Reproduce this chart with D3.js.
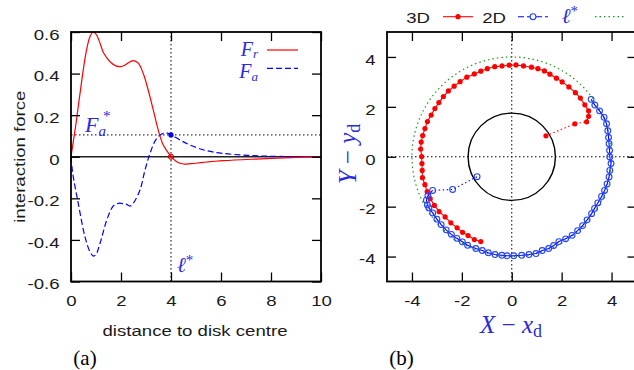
<!DOCTYPE html>
<html>
<head>
<meta charset="utf-8">
<script src="https://cdn.jsdelivr.net/npm/d3@7"></script>
<style>
  body { margin: 0; background: #fff; }
</style>
</head>
<body>
<div id="chart"></div>
<script>
// ---- (a) interaction force vs distance ----
const frDistance = [0, 0.1, 0.2, 0.4, 0.6, 0.75, 0.88, 1.0, 1.15, 1.3, 1.56, 1.8, 1.98, 2.15, 2.35, 2.49, 2.69, 2.89, 3.09, 3.29, 3.49, 3.69, 3.96, 4.23, 4.5, 4.8, 5.3, 6.1, 7.4, 8.8, 10];
const frForce = [0, 0.08, 0.16, 0.34, 0.5, 0.575, 0.6, 0.59, 0.55, 0.5, 0.457, 0.437, 0.433, 0.44, 0.456, 0.462, 0.45, 0.4, 0.32, 0.225, 0.128, 0.056, 0.008, -0.024, -0.035, -0.033, -0.027, -0.019, -0.011, -0.004, 0];
const faDistance = [0, 0.07, 0.29, 0.56, 0.76, 0.9, 1.0, 1.16, 1.43, 1.69, 1.89, 2.05, 2.2, 2.36, 2.49, 2.76, 2.96, 3.16, 3.43, 3.69, 3.85, 4.03, 4.4, 4.76, 5.43, 6.09, 7.03, 8.09, 10];
const faForce = [0, -0.08, -0.224, -0.385, -0.457, -0.478, -0.47, -0.417, -0.305, -0.237, -0.224, -0.225, -0.228, -0.237, -0.224, -0.16, -0.064, 0.016, 0.089, 0.113, 0.114, 0.104, 0.078, 0.056, 0.029, 0.016, 0.007, 0.002, 0];
const distanceTicks = [0, 2, 4, 6, 8, 10];
const forceTicks = [-0.6, -0.4, -0.2, 0, 0.2, 0.4, 0.6];
const ellStar = 4;
const faStar = 0.105;

// ---- (b) trajectories around the disk ----
const diskRadius = 1.75;
const traj3dApproach = [[1.37, 0.84], [2.53, 1.32], [3.0, 1.4]];
const traj3dOrbit = [[3.0, 1.4], [3.08, 1.62], [3.08, 1.84], [2.93, 2.08], [2.75, 2.35], [2.55, 2.57], [2.29, 2.8], [2.02, 3.0], [1.79, 3.15], [1.53, 3.31], [1.31, 3.44], [1.05, 3.53], [0.79, 3.59], [0.47, 3.64], [0.17, 3.68], [-0.1, 3.67], [-0.39, 3.64], [-0.68, 3.61], [-0.98, 3.53], [-1.24, 3.43], [-1.5, 3.32], [-1.8, 3.19], [-2.07, 3.01], [-2.31, 2.83], [-2.54, 2.64], [-2.74, 2.41], [-2.92, 2.17], [-3.08, 1.93], [-3.23, 1.67], [-3.38, 1.41], [-3.48, 1.13], [-3.57, 0.85], [-3.63, 0.59], [-3.65, 0.31], [-3.61, 0.01], [-3.6, -0.27], [-3.59, -0.55], [-3.58, -0.84], [-3.48, -1.12], [-3.39, -1.4], [-3.27, -1.68], [-3.1, -1.95], [-2.91, -2.2], [-2.67, -2.41], [-2.44, -2.65], [-2.19, -2.85], [-1.97, -3.03], [-1.75, -3.16], [-1.5, -3.32], [-1.24, -3.4]];
const traj2dApproach = [[-1.39, -0.8], [-2.37, -1.31], [-3.17, -1.35]];
const traj2dOrbit = [[-3.17, -1.35], [-3.36, -1.56], [-3.42, -1.74], [-3.38, -1.93], [-3.32, -2.05], [-3.17, -2.25], [-3.0, -2.5], [-2.83, -2.72], [-2.63, -2.93], [-2.42, -3.11], [-2.2, -3.27], [-1.98, -3.41], [-1.77, -3.55], [-1.44, -3.68], [-1.18, -3.76], [-0.94, -3.85], [-0.67, -3.92], [-0.4, -3.95], [-0.19, -3.97], [0.08, -3.97], [0.4, -3.95], [0.69, -3.92], [0.97, -3.88], [1.22, -3.76], [1.48, -3.68], [1.68, -3.56], [1.89, -3.4], [2.16, -3.29], [2.42, -3.15], [2.64, -2.96], [2.84, -2.76], [3.02, -2.53], [3.2, -2.28], [3.32, -2.07], [3.45, -1.85], [3.6, -1.59], [3.72, -1.35], [3.82, -1.09], [3.9, -0.81], [3.93, -0.55], [3.98, -0.27], [3.93, -0.01], [3.92, 0.25], [3.9, 0.52], [3.88, 0.77], [3.85, 1.04], [3.8, 1.32], [3.7, 1.58], [3.52, 1.84], [3.33, 2.07], [3.18, 2.3]];
const positionTicks = [-4, -2, 0, 2, 4];

const sansFont = "'Liberation Sans', Arial, Helvetica, sans-serif";
const serifFont = "'Liberation Serif', 'DejaVu Serif', serif";
const fontSize = 15.5;
const stretch = 1.2;  // the figure's sans text is wide
const textColor = '#1a1a1a';
const blue = '#0000ff';
const mathBlue = '#2a2ae0';
const red = '#ff0000';
const green = '#1f991f';

const svg = d3.select('#chart').append('svg')
  .attr('width', 634)
  .attr('height', 370);

// helper for the stretched sans labels
function sansText(parent, x, y, str, anchor, rotate) {
  return parent.append('text')
    .attr('transform', 'translate(' + x + ',' + y + ')' +
      (rotate ? ' rotate(' + rotate + ')' : '') + ' scale(' + stretch + ',1)')
    .attr('text-anchor', anchor || 'middle')
    .attr('font-family', sansFont)
    .attr('font-size', fontSize)
    .attr('fill', textColor)
    .text(str);
}

function styleAxis(g, orient, pad) {
  g.select('.domain').remove();
  g.attr('font-family', sansFont).attr('font-size', fontSize);
  g.selectAll('.tick line').attr('stroke', '#000').attr('stroke-width', 1.3);
  const t = g.selectAll('.tick text').attr('fill', textColor)
    .attr('transform', 'scale(' + stretch + ',1)');
  if (orient === 'left') {
    t.attr('x', -pad / stretch).attr('dy', '0.47em');
  }
}

function drawFrame(x, y, xTicks, yTicks, xFormat, yFormat) {
  const xr = x.range(), yr = y.range();
  // bottom / left with labels
  svg.append('g')
    .attr('transform', 'translate(0,' + yr[0] + ')')
    .call(d3.axisBottom(x).tickValues(xTicks).tickSizeInner(-9).tickSizeOuter(0)
      .tickPadding(14).tickFormat(xFormat))
    .call(g => styleAxis(g, 'bottom', 14));
  svg.append('g')
    .attr('transform', 'translate(' + xr[0] + ',0)')
    .call(d3.axisLeft(y).tickValues(yTicks).tickSizeInner(-9).tickSizeOuter(0)
      .tickFormat(yFormat))
    .call(g => styleAxis(g, 'left', 11.5));
  // mirrored ticks
  svg.append('g')
    .attr('transform', 'translate(0,' + yr[1] + ')')
    .call(d3.axisTop(x).tickValues(xTicks).tickSizeInner(-9).tickSizeOuter(0).tickFormat(''))
    .call(g => styleAxis(g, 'top', 0));
  svg.append('g')
    .attr('transform', 'translate(' + xr[1] + ',0)')
    .call(d3.axisRight(y).tickValues(yTicks).tickSizeInner(-9).tickSizeOuter(0).tickFormat(''))
    .call(g => styleAxis(g, 'right', 0));
  svg.append('rect')
    .attr('x', xr[0]).attr('y', yr[1])
    .attr('width', xr[1] - xr[0]).attr('height', yr[0] - yr[1])
    .attr('fill', 'none').attr('stroke', '#000').attr('stroke-width', 1.8);
}

// ================= panel (a) =================
const xA = d3.scaleLinear().domain([0, 10]).range([71, 321]);
const yA = d3.scaleLinear().domain([-0.6, 0.6]).range([281.5, 32]);

const pa = svg.append('g');

// zero axis
pa.append('line')
  .attr('x1', xA(0)).attr('x2', xA(10))
  .attr('y1', yA(0)).attr('y2', yA(0))
  .attr('stroke', '#222').attr('stroke-width', 1.5);

// reference lines at l* and Fa*
pa.append('line')
  .attr('x1', xA(ellStar)).attr('x2', xA(ellStar))
  .attr('y1', yA(-0.6)).attr('y2', yA(0.6))
  .attr('stroke', '#000').attr('stroke-width', 1).attr('stroke-dasharray', '1.5,2.5');
pa.append('line')
  .attr('x1', xA(0)).attr('x2', xA(10))
  .attr('y1', yA(faStar)).attr('y2', yA(faStar))
  .attr('stroke', '#000').attr('stroke-width', 1).attr('stroke-dasharray', '1.5,2.5');

const forceLine = d3.line()
  .x(d => xA(d[0]))
  .y(d => yA(d[1]))
  .curve(d3.curveCatmullRom.alpha(0.5));

pa.append('path')
  .attr('d', forceLine(d3.zip(faDistance, faForce)))
  .attr('fill', 'none').attr('stroke', blue).attr('stroke-width', 1.2)
  .attr('stroke-dasharray', '6,3');
pa.append('path')
  .attr('d', forceLine(d3.zip(frDistance, frForce)))
  .attr('fill', 'none').attr('stroke', red).attr('stroke-width', 1.2);

pa.append('circle')
  .attr('cx', xA(ellStar)).attr('cy', yA(0)).attr('r', 2.6)
  .attr('fill', 'rgba(255,0,0,0.35)').attr('stroke', '#c00000').attr('stroke-width', 1);
pa.append('circle')
  .attr('cx', xA(ellStar)).attr('cy', yA(faStar)).attr('r', 2.6)
  .attr('fill', blue);

drawFrame(xA, yA, distanceTicks, forceTicks, d3.format('d'), d => d3.format('.1f')(d).replace('0.0', '0').replace('−', '-'));

// legend
const legA = svg.append('g').attr('font-family', serifFont).attr('font-style', 'italic').attr('fill', mathBlue);
const lgR = legA.append('text').attr('x', 258).attr('y', 55.5).attr('text-anchor', 'end').attr('font-size', 20);
lgR.append('tspan').text('F');
lgR.append('tspan').attr('dy', 2.5).attr('font-size', 13).text('r');
const lgA = legA.append('text').attr('x', 258).attr('y', 78).attr('text-anchor', 'end').attr('font-size', 20);
lgA.append('tspan').text('F');
lgA.append('tspan').attr('dy', 2.5).attr('font-size', 13).text('a');
svg.append('line').attr('x1', 267).attr('x2', 298).attr('y1', 50).attr('y2', 50)
  .attr('stroke', red).attr('stroke-width', 1.2);
svg.append('line').attr('x1', 267).attr('x2', 298).attr('y1', 68.3).attr('y2', 68.3)
  .attr('stroke', blue).attr('stroke-width', 1.2).attr('stroke-dasharray', '6,3');

// Fa* and l* labels
const fstar = legA.append('text').attr('x', xA(0) + 14).attr('y', yA(faStar) - 3).attr('font-size', 22);
fstar.append('tspan').text('F');
fstar.append('tspan').attr('dy', 4.5).attr('font-size', 15).text('a');
fstar.append('tspan').attr('dx', -3).attr('dy', -15).attr('font-size', 15).attr('font-style', 'normal').text('*');
const lstar = legA.append('text').attr('x', xA(ellStar) + 6).attr('y', yA(-0.6) - 10).attr('font-size', 21);
lstar.append('tspan').text('ℓ');
lstar.append('tspan').attr('dy', -7).attr('font-size', 15).attr('font-style', 'normal').text('*');

sansText(svg, 195, 335.7, 'distance to disk centre');
sansText(svg, 24.5, 156.7, 'interaction force', 'middle', -90);

svg.append('text').attr('x', 85).attr('y', 365).attr('text-anchor', 'middle')
  .attr('font-family', serifFont).attr('font-size', 21).text('(a)');

// ================= panel (b) =================
const xB = d3.scaleLinear().domain([-5, 5]).range([387, 636.5]);
const yB = d3.scaleLinear().domain([-5, 5]).range([281.5, 32]);

const pb = svg.append('g');

// dotted zero axes
pb.append('line')
  .attr('x1', xB(-5)).attr('x2', xB(5)).attr('y1', yB(0)).attr('y2', yB(0))
  .attr('stroke', '#000').attr('stroke-width', 1).attr('stroke-dasharray', '1.5,2.5');
pb.append('line')
  .attr('x1', xB(0)).attr('x2', xB(0)).attr('y1', yB(-5)).attr('y2', yB(5))
  .attr('stroke', '#000').attr('stroke-width', 1).attr('stroke-dasharray', '1.5,2.5');

// disk and l* circle
pb.append('circle')
  .attr('cx', xB(0)).attr('cy', yB(0)).attr('r', xB(diskRadius) - xB(0))
  .attr('fill', 'none').attr('stroke', '#000').attr('stroke-width', 1.4);
pb.append('circle')
  .attr('cx', xB(0)).attr('cy', yB(0)).attr('r', xB(ellStar) - xB(0))
  .attr('fill', 'none').attr('stroke', green).attr('stroke-width', 1.2)
  .attr('stroke-dasharray', '1.5,3');

const trajLine = d3.line()
  .x(d => xB(d[0]))
  .y(d => yB(d[1]));

// 3D trajectory
pb.append('path').attr('d', trajLine(traj3dApproach))
  .attr('fill', 'none').attr('stroke', red).attr('stroke-width', 1.1).attr('stroke-dasharray', '1.5,2.5');
pb.append('path').attr('d', trajLine(traj3dOrbit))
  .attr('fill', 'none').attr('stroke', red).attr('stroke-width', 1.1);
pb.selectAll('.p3d')
  .data(traj3dApproach.concat(traj3dOrbit.slice(1)))
  .enter().append('circle')
  .attr('class', 'p3d')
  .attr('cx', d => xB(d[0])).attr('cy', d => yB(d[1])).attr('r', 2.6)
  .attr('fill', red);

// 2D trajectory
pb.append('path').attr('d', trajLine(traj2dApproach))
  .attr('fill', 'none').attr('stroke', blue).attr('stroke-width', 1.1).attr('stroke-dasharray', '1.5,2.5');
pb.append('path').attr('d', trajLine(traj2dOrbit))
  .attr('fill', 'none').attr('stroke', blue).attr('stroke-width', 1.1);
pb.selectAll('.p2d')
  .data(traj2dApproach.concat(traj2dOrbit.slice(1)))
  .enter().append('circle')
  .attr('class', 'p2d')
  .attr('cx', d => xB(d[0])).attr('cy', d => yB(d[1])).attr('r', 2.9)
  .attr('fill', 'none').attr('stroke', '#2244ff').attr('stroke-width', 1.1);

drawFrame(xB, yB, positionTicks, positionTicks, d3.format('d'), d3.format('d'));
svg.selectAll('.tick text').each(function () {
  const s = d3.select(this);
  s.text(s.text().replace('−', '-'));
});

// legend (b)
sansText(svg, 430, 22.7, '3D', 'end');
svg.append('line').attr('x1', 443).attr('x2', 473).attr('y1', 16.7).attr('y2', 16.7)
  .attr('stroke', red).attr('stroke-width', 1.1);
svg.append('circle').attr('cx', 458).attr('cy', 16.7).attr('r', 2.6).attr('fill', red);
sansText(svg, 506, 22.7, '2D', 'end');
svg.append('line').attr('x1', 518).attr('x2', 548).attr('y1', 16.7).attr('y2', 16.7)
  .attr('stroke', blue).attr('stroke-width', 1.1).attr('stroke-dasharray', '6,3');
svg.append('circle').attr('cx', 533).attr('cy', 16.7).attr('r', 2.9)
  .attr('fill', '#fff').attr('stroke', '#2244ff').attr('stroke-width', 1.1);
const lgL = svg.append('text').attr('x', 578).attr('y', 22.7).attr('text-anchor', 'end')
  .attr('font-family', serifFont).attr('font-style', 'italic').attr('font-size', 21).attr('fill', mathBlue);
lgL.append('tspan').text('ℓ');
lgL.append('tspan').attr('dy', -7).attr('font-size', 15).attr('font-style', 'normal').text('*');
svg.append('line').attr('x1', 595).attr('x2', 625).attr('y1', 16.7).attr('y2', 16.7)
  .attr('stroke', green).attr('stroke-width', 1.2).attr('stroke-dasharray', '1.5,3');

// axis titles (b)
const xTitle = svg.append('text').attr('x', 511).attr('y', 333).attr('text-anchor', 'middle')
  .attr('font-family', serifFont).attr('font-size', 25).attr('fill', mathBlue);
xTitle.append('tspan').attr('font-style', 'italic').text('X');
xTitle.append('tspan').text(' − ');
xTitle.append('tspan').attr('font-style', 'italic').text('x');
xTitle.append('tspan').attr('dy', 4).attr('font-size', 18).text('d');

const yTitle = svg.append('text')
  .attr('transform', 'translate(356,154) rotate(-90)')
  .attr('text-anchor', 'middle')
  .attr('font-family', serifFont).attr('font-size', 25).attr('fill', mathBlue);
yTitle.append('tspan').attr('font-style', 'italic').text('Y');
yTitle.append('tspan').text(' − ');
yTitle.append('tspan').attr('font-style', 'italic').text('y');
yTitle.append('tspan').attr('dy', 4).attr('font-size', 18).text('d');

svg.append('text').attr('x', 401.5).attr('y', 365).attr('text-anchor', 'middle')
  .attr('font-family', serifFont).attr('font-size', 21).text('(b)');
</script>
</body>
</html>
